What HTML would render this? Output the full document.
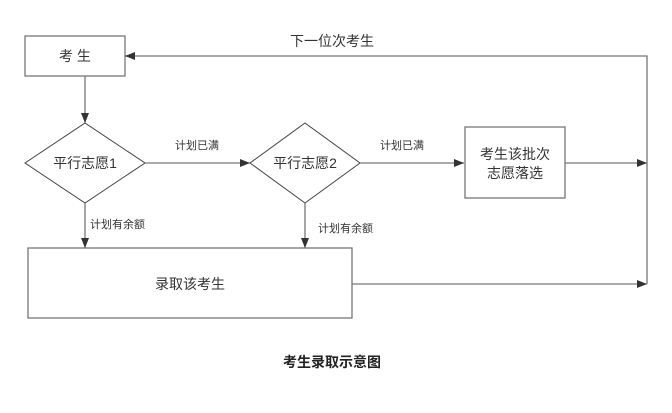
<!DOCTYPE html>
<html><head><meta charset="utf-8"><style>
html,body{margin:0;padding:0;background:#fff;width:672px;height:413px;overflow:hidden}
text{font-family:"Liberation Sans","Noto Sans CJK SC",sans-serif;fill:#333}
</style></head><body>
<svg width="672" height="413" viewBox="0 0 672 413" xmlns="http://www.w3.org/2000/svg">
<defs><marker id="a" markerWidth="10" markerHeight="8" refX="10" refY="4" orient="auto" markerUnits="userSpaceOnUse"><path d="M0,0 L10,4 L0,8 z" fill="#333"/></marker></defs>
<g stroke="#777" stroke-width="1.3" fill="none">
<rect x="25" y="36" width="100" height="40" fill="#fff"/>
<polygon points="85,123 145,163 85,203 25,163" fill="#fff" stroke="#444" stroke-width="1"/>
<polygon points="305,123 360,163 305,203 250,163" fill="#fff" stroke="#444" stroke-width="1"/>
<rect x="465" y="127" width="100" height="71" fill="#fff"/>
<rect x="28" y="248" width="324" height="70" fill="#fff"/>
<line x1="85" y1="76" x2="85" y2="123" marker-end="url(#a)"/>
<line x1="145" y1="163" x2="250" y2="163" marker-end="url(#a)"/>
<line x1="360" y1="163" x2="464" y2="163" marker-end="url(#a)"/>
<line x1="565" y1="163" x2="647" y2="163" marker-end="url(#a)"/>
<line x1="85" y1="203" x2="85" y2="248" marker-end="url(#a)"/>
<line x1="305" y1="203" x2="305" y2="248" marker-end="url(#a)"/>
<line x1="352" y1="284" x2="647" y2="284" marker-end="url(#a)"/>
<polyline points="647,284 647,56 125,56" marker-end="url(#a)"/>
</g>
<text x="75" y="61" font-size="14" text-anchor="middle">考 生</text>
<text x="85" y="168" font-size="14" text-anchor="middle">平行志愿1</text>
<text x="305" y="168" font-size="14" text-anchor="middle">平行志愿2</text>
<text x="515" y="159" font-size="14" text-anchor="middle">考生该批次</text>
<text x="515" y="178" font-size="14" text-anchor="middle">志愿落选</text>
<text x="190" y="289" font-size="14" text-anchor="middle">录取该考生</text>
<text x="332" y="46" font-size="14" text-anchor="middle">下一位次考生</text>
<text x="175" y="149" font-size="11">计划已满</text>
<text x="380" y="149" font-size="11">计划已满</text>
<text x="90" y="228" font-size="11">计划有余额</text>
<text x="318" y="232" font-size="11">计划有余额</text>
<text x="332" y="367" font-size="14" font-weight="bold" text-anchor="middle" style="fill:#222">考生录取示意图</text>
</svg>
</body></html>
